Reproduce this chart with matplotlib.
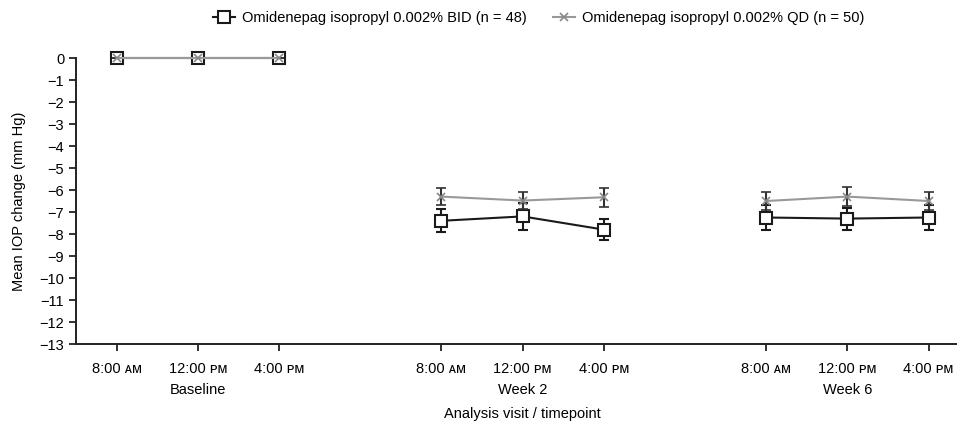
import matplotlib
matplotlib.use('Agg')
import matplotlib.pyplot as plt
from matplotlib.lines import Line2D

plt.rcParams['font.family'] = ['Liberation Sans', 'DejaVu Sans']
plt.rcParams['font.size'] = 10.5

# x positions: three visits, three timepoints each (gap between visits)
x_pos = [0, 1, 2, 4, 5, 6, 8, 9, 10]
tick_labels = ['8:00 ᴀᴍ', '12:00 ᴘᴍ\nBaseline', '4:00 ᴘᴍ',
               '8:00 ᴀᴍ', '12:00 ᴘᴍ\nWeek 2', '4:00 ᴘᴍ',
               '8:00 ᴀᴍ', '12:00 ᴘᴍ\nWeek 6', '4:00 ᴘᴍ']

bid_mean = [0, 0, 0, -7.4, -7.2, -7.8, -7.25, -7.3, -7.25]
bid_err = [0, 0, 0, 0.53, 0.6, 0.49, 0.58, 0.5, 0.55]
qd_mean = [0, 0, 0, -6.3, -6.48, -6.33, -6.5, -6.3, -6.5]
qd_err = [0, 0, 0, 0.38, 0.4, 0.44, 0.43, 0.42, 0.41]

bid_label = 'Omidenepag isopropyl 0.002% BID (n = 48)'
qd_label = 'Omidenepag isopropyl 0.002% QD (n = 50)'

fig = plt.figure(figsize=(9.57, 4.24), dpi=100)
ax = fig.add_axes([76 / 957, 80 / 424, 1 - 76 / 957, (344 - 58) / 424])

groups = [slice(0, 3), slice(3, 6), slice(6, 9)]
for g in groups:
    xs = x_pos[g]
    # BID: black squares
    b = ax.errorbar(xs, bid_mean[g], yerr=bid_err[g], color='#1a1a1a', lw=1.5,
                    marker='s', ms=8, mfc='white', mec='#1a1a1a', mew=1.5,
                    capsize=3.5, capthick=1.5, elinewidth=1.5, zorder=3)
    # QD: grey crosses
    q = ax.errorbar(xs, qd_mean[g], yerr=qd_err[g], color='#999999', lw=1.5,
                    marker='x', ms=6, mec='#888888', mew=1.2,
                    ecolor='#333333', capsize=3.5, capthick=1.5, elinewidth=1.5,
                    zorder=4)
    for art in (b, q):
        for child in art.get_children():
            child.set_clip_on(False)

ax.set_xlim(-0.5, 10.35)
ax.set_ylim(-13, 0)
ax.set_yticks(range(0, -14, -1))
ax.set_xticks(x_pos)
ax.set_xticklabels(tick_labels, linespacing=1.6, va='top')

for s in ['top', 'right']:
    ax.spines[s].set_visible(False)
for s in ['left', 'bottom']:
    ax.spines[s].set_linewidth(1.4)
    ax.spines[s].set_color('#222222')
ax.tick_params(axis='both', length=5, width=1.3, color='#222222', labelsize=10.5)
ax.tick_params(axis='x', pad=8)

ax.set_ylabel('Mean IOP change (mm Hg)', fontsize=10.5)
ax.set_xlabel('Analysis visit / timepoint', fontsize=10.5)
ax.xaxis.set_label_coords((522 - 76) / 881, -0.222)
ax.yaxis.set_label_coords(-0.057, 0.5)

handles = [
    Line2D([], [], color='#1a1a1a', lw=1.5, marker='s', ms=8, mfc='white',
           mec='#1a1a1a', mew=1.5),
    Line2D([], [], color='#999999', lw=1.5, marker='x', ms=6, mec='#888888',
           mew=1.2),
]
fig.legend(handles, [bid_label, qd_label], loc='center',
           bbox_to_anchor=(0.563, 0.958), ncol=2, frameon=False,
           fontsize=10.5, handlelength=1.5, columnspacing=1.8, handletextpad=0.5)

fig.savefig('out.png', dpi=100)
